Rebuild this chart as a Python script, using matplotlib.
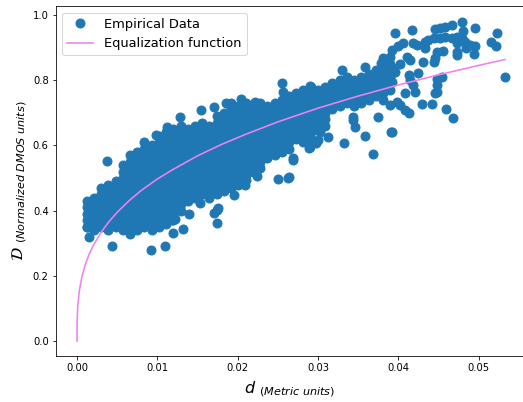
import matplotlib
matplotlib.use("Agg")
import matplotlib.pyplot as plt

# dense body of the empirical cloud, one column of D values per d position
core_d = [0.0012, 0.0021, 0.0030, 0.0039, 0.0048, 0.0057, 0.0066, 0.0075, 0.0084, 0.0093,
          0.0102, 0.0111, 0.0120, 0.0129, 0.0138, 0.0147, 0.0156, 0.0165, 0.0174, 0.0183,
          0.0192, 0.0201, 0.0210, 0.0219, 0.0228, 0.0237, 0.0246, 0.0255, 0.0264, 0.0273,
          0.0282, 0.0291, 0.0300, 0.0309, 0.0318, 0.0327, 0.0336, 0.0345, 0.0354, 0.0363,
          0.0372, 0.0381, 0.0390]
core_D = [
    [0.35, 0.37, 0.39, 0.41, 0.43],
    [0.34, 0.36, 0.38, 0.40, 0.42, 0.44],
    [0.35, 0.37, 0.39, 0.41, 0.43, 0.45, 0.47],
    [0.34, 0.36, 0.38, 0.40, 0.42, 0.44, 0.46, 0.48],
    [0.35, 0.37, 0.39, 0.41, 0.43, 0.45, 0.47, 0.49],
    [0.34, 0.36, 0.38, 0.40, 0.42, 0.44, 0.46, 0.48, 0.50, 0.52, 0.54],
    [0.33, 0.35, 0.37, 0.39, 0.41, 0.43, 0.45, 0.47, 0.49, 0.51, 0.53, 0.55, 0.57],
    [0.34, 0.36, 0.38, 0.40, 0.42, 0.44, 0.46, 0.48, 0.50, 0.52, 0.54, 0.56, 0.58],
    [0.35, 0.37, 0.39, 0.41, 0.43, 0.45, 0.47, 0.49, 0.51, 0.53, 0.55, 0.57, 0.59, 0.61],
    [0.34, 0.36, 0.38, 0.40, 0.42, 0.44, 0.46, 0.48, 0.50, 0.52, 0.54, 0.56, 0.58, 0.60],
    [0.35, 0.37, 0.39, 0.41, 0.43, 0.45, 0.47, 0.49, 0.51, 0.53, 0.55, 0.57, 0.59, 0.61, 0.63],
    [0.36, 0.38, 0.40, 0.42, 0.44, 0.46, 0.48, 0.50, 0.52, 0.54, 0.56, 0.58, 0.60, 0.62, 0.64],
    [0.37, 0.39, 0.41, 0.43, 0.45, 0.47, 0.49, 0.51, 0.53, 0.55, 0.57, 0.59, 0.61, 0.63, 0.65],
    [0.40, 0.42, 0.44, 0.46, 0.48, 0.50, 0.52, 0.54, 0.56, 0.58, 0.60, 0.62, 0.64, 0.66],
    [0.43, 0.45, 0.47, 0.49, 0.51, 0.53, 0.55, 0.57, 0.59, 0.61, 0.63, 0.65],
    [0.44, 0.46, 0.48, 0.50, 0.52, 0.54, 0.56, 0.58, 0.60, 0.62, 0.64, 0.66],
    [0.45, 0.47, 0.49, 0.51, 0.53, 0.55, 0.57, 0.59, 0.61, 0.63, 0.65, 0.67],
    [0.44, 0.46, 0.48, 0.50, 0.52, 0.54, 0.56, 0.58, 0.60, 0.62, 0.64, 0.66],
    [0.45, 0.47, 0.49, 0.51, 0.53, 0.55, 0.57, 0.59, 0.61, 0.63, 0.65, 0.67, 0.69],
    [0.46, 0.48, 0.50, 0.52, 0.54, 0.56, 0.58, 0.60, 0.62, 0.64, 0.66, 0.68, 0.70],
    [0.47, 0.49, 0.51, 0.53, 0.55, 0.57, 0.59, 0.61, 0.63, 0.65, 0.67, 0.69, 0.71, 0.73],
    [0.48, 0.50, 0.52, 0.54, 0.56, 0.58, 0.60, 0.62, 0.64, 0.66, 0.68, 0.70, 0.72],
    [0.51, 0.53, 0.55, 0.57, 0.59, 0.61, 0.63, 0.65, 0.67, 0.69, 0.71, 0.73],
    [0.52, 0.54, 0.56, 0.58, 0.60, 0.62, 0.64, 0.66, 0.68, 0.70, 0.72],
    [0.53, 0.55, 0.57, 0.59, 0.61, 0.63, 0.65, 0.67, 0.69, 0.71, 0.73],
    [0.56, 0.58, 0.60, 0.62, 0.64, 0.66, 0.68, 0.70, 0.72],
    [0.57, 0.59, 0.61, 0.63, 0.65, 0.67, 0.69, 0.71, 0.73],
    [0.58, 0.60, 0.62, 0.64, 0.66, 0.68, 0.70, 0.72, 0.74],
    [0.59, 0.61, 0.63, 0.65, 0.67, 0.69, 0.71, 0.73, 0.75],
    [0.62, 0.64, 0.66, 0.68, 0.70, 0.72, 0.74, 0.76],
    [0.61, 0.63, 0.65, 0.67, 0.69, 0.71, 0.73, 0.75, 0.77],
    [0.62, 0.64, 0.66, 0.68, 0.70, 0.72, 0.74, 0.76, 0.78],
    [0.65, 0.67, 0.69, 0.71, 0.73, 0.75, 0.77],
    [0.66, 0.68, 0.70, 0.72, 0.74, 0.76, 0.78],
    [0.71, 0.73, 0.75, 0.77, 0.79],
    [0.72, 0.74, 0.76, 0.78, 0.80],
    [0.73, 0.75, 0.77, 0.79, 0.81],
    [0.72, 0.74, 0.76, 0.78, 0.80],
    [0.73, 0.75, 0.77, 0.79, 0.81],
    [0.74, 0.76, 0.78, 0.80, 0.82],
    [0.75, 0.77, 0.79, 0.81, 0.83],
    [0.74, 0.76, 0.78, 0.80, 0.82, 0.84, 0.86],
    [0.77, 0.79, 0.81, 0.83, 0.85, 0.87],
]

# scattered points around the body
edge_d = [0.0013, 0.0015, 0.0044, 0.0092, 0.0109, 0.0120, 0.0122, 0.0132, 0.0118, 0.0140,
          0.0153, 0.0174, 0.0176, 0.0170, 0.0174, 0.0195, 0.0209, 0.0211, 0.0224, 0.0250,
          0.0263, 0.0264, 0.0269, 0.0269, 0.0289, 0.0290, 0.0298, 0.0300, 0.0303, 0.0313,
          0.0332, 0.0344, 0.0346, 0.0344, 0.0359, 0.0369, 0.0375, 0.0391, 0.0390,
          0.0037, 0.0099, 0.0112, 0.0128, 0.0154, 0.0170, 0.0186, 0.0204, 0.0222, 0.0255,
          0.0256, 0.0290, 0.0330, 0.0359, 0.0379, 0.0381, 0.0386, 0.0392, 0.0392, 0.0390]
edge_D = [0.351, 0.320, 0.292, 0.280, 0.292, 0.333, 0.375, 0.343, 0.372, 0.390,
          0.423, 0.363, 0.408, 0.392, 0.402, 0.448, 0.479, 0.494, 0.506, 0.496,
          0.499, 0.504, 0.555, 0.560, 0.591, 0.596, 0.606, 0.617, 0.642, 0.627,
          0.606, 0.678, 0.657, 0.688, 0.629, 0.573, 0.688, 0.642, 0.724,
          0.553, 0.632, 0.657, 0.688, 0.708, 0.717, 0.730, 0.742, 0.734, 0.790,
          0.764, 0.782, 0.831, 0.841, 0.851, 0.867, 0.851, 0.892, 0.795, 0.841]

# sparse cluster on the right
right_d = [0.0396, 0.0417, 0.0446, 0.0452, 0.0458, 0.0467, 0.0479, 0.0481, 0.0496, 0.0523,
           0.0400, 0.0406, 0.0419, 0.0423, 0.0433, 0.0437, 0.0444, 0.0452, 0.0458, 0.0467,
           0.0473, 0.0479, 0.0483, 0.0489, 0.0496, 0.0473, 0.0516, 0.0522, 0.0433, 0.0448,
           0.0456, 0.0473, 0.0473, 0.0494, 0.0485, 0.0411, 0.0415, 0.0446, 0.0444, 0.0431,
           0.0402, 0.0394, 0.0396, 0.0425, 0.0413, 0.0415, 0.0419, 0.0454, 0.0448, 0.0448,
           0.0448, 0.0446, 0.0421, 0.0408, 0.0398, 0.0402, 0.0408, 0.0413, 0.0429, 0.0442,
           0.0460, 0.0468, 0.0392, 0.0533]
right_D = [0.943, 0.953, 0.957, 0.961, 0.964, 0.969, 0.979, 0.950, 0.961, 0.943,
           0.905, 0.913, 0.913, 0.907, 0.918, 0.923, 0.928, 0.928, 0.933, 0.928,
           0.933, 0.928, 0.918, 0.907, 0.905, 0.913, 0.916, 0.905, 0.897, 0.887,
           0.889, 0.887, 0.877, 0.879, 0.897, 0.872, 0.862, 0.867, 0.854, 0.854,
           0.848, 0.838, 0.826, 0.821, 0.816, 0.800, 0.785, 0.810, 0.803, 0.785,
           0.764, 0.760, 0.763, 0.760, 0.734, 0.724, 0.708, 0.698, 0.727, 0.727,
           0.711, 0.683, 0.642, 0.809]

# equalization curve
curve_d = [0.0, 0.00002, 0.0001, 0.0003, 0.0006, 0.001, 0.0015, 0.002, 0.003, 0.004,
           0.005, 0.0065, 0.008, 0.010, 0.012, 0.015, 0.018, 0.021, 0.025, 0.030,
           0.035, 0.040, 0.045, 0.050, 0.0533]
curve_D = [0.0, 0.064, 0.109, 0.156, 0.196, 0.232, 0.266, 0.292, 0.334, 0.367,
           0.395, 0.431, 0.462, 0.497, 0.527, 0.568, 0.603, 0.634, 0.672, 0.714,
           0.751, 0.785, 0.816, 0.845, 0.863]

emp_d = [d for d, col in zip(core_d, core_D) for _ in col] + edge_d + right_d
emp_D = [v for col in core_D for v in col] + edge_D + right_D

fig = plt.figure(figsize=(523 / 72, 402 / 72), dpi=72)
ax = fig.add_axes([55.7 / 523, 45.7 / 402, 468.2 / 523, 350.3 / 402])

ax.plot(emp_d, emp_D, 'o', color='#1f77b4', markersize=9, label='Empirical Data')
ax.plot(curve_d, curve_D, color='violet', linewidth=1.6, label='Equalization function')

ax.set_xlim(-0.00265, 0.05565)
ax.set_ylim(-0.046, 1.027)
ax.tick_params(labelsize=10)

ax.set_xlabel(r'$d$ $_{(Metric\ units)}$', fontsize=16, labelpad=6)
ax.set_ylabel(r'$\mathcal{D}$ $_{(Normalized\ DMOS\ units)}$', fontsize=16)

ax.legend(loc='upper left', fontsize=13)

fig.savefig('out.png', dpi=72)
